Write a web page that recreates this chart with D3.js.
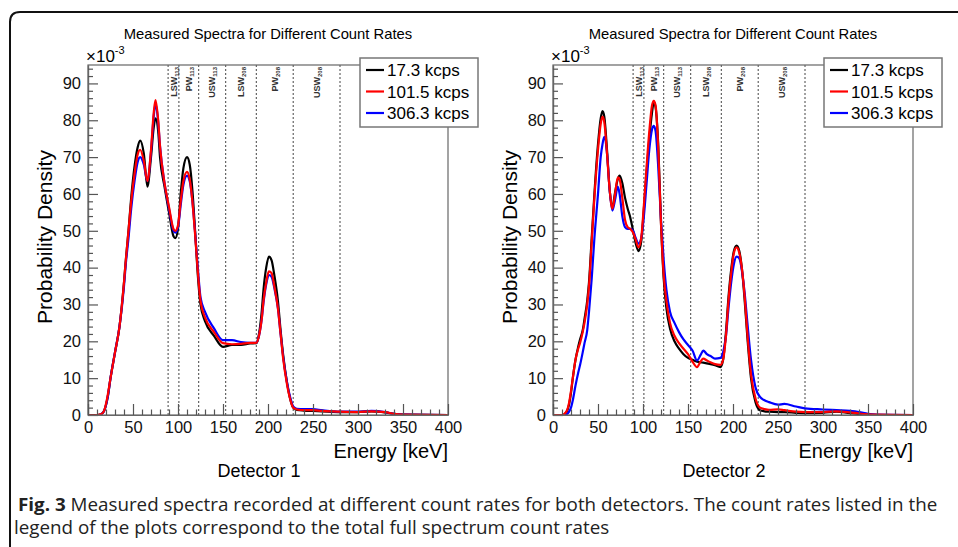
<!DOCTYPE html>
<html>
<head>
<meta charset="utf-8">
<script src="https://cdn.jsdelivr.net/npm/d3@7"></script>
<style>
  body { margin: 0; background: #fff; }
  svg { display: block; }
</style>
</head>
<body>
<svg id="chart" width="958" height="547"></svg>
<script>
// energies (keV) sampled for each detector
const energy1 = [0, 5, 10, 15, 18, 22, 25, 30, 35, 40, 42, 45, 48, 52, 55, 58, 62, 66, 70, 73,
    75, 78, 80, 85, 90, 95, 97, 100, 103, 106, 110, 113, 116, 119, 122, 125, 130, 140, 150, 160,
    170, 180, 187, 190, 193, 195, 198, 201, 204, 207, 211, 214, 217, 221, 225, 228, 232, 240, 250, 260,
    280, 300, 315, 330, 340, 350, 400];

// detector 1, probability density x1e-3
const det1Low = [0, 0, 0, 0.3, 1.2, 5, 10, 17, 24, 36, 42, 50, 59, 68, 72.5, 74.5, 71, 62, 70, 78,
    80.5, 77, 70, 62, 55, 48.5, 48, 50.5, 60, 67, 70, 68, 61, 50, 38, 30, 25.5, 21.5, 18.5, 19,
    19, 19.4, 19.5, 22, 28, 34, 40, 43, 42, 38, 31, 23, 16, 9, 4, 2, 1.4, 1.2, 1.1, 1.0,
    0.8, 0.8, 1.0, 0.7, 0.3, 0.1, 0];
const det1Mid = [0, -0.1, 0, 0.3, 1.2, 5.5, 10, 17, 24, 36, 42, 50, 58, 66, 70.5, 72, 69, 63.5, 72, 82,
    85.5, 80, 73, 63, 56.5, 50.5, 50, 51.5, 58, 63.5, 66, 64, 58, 49, 39, 31, 26.5, 22.5, 19.5, 19.2,
    19.3, 19.6, 19.6, 21.5, 26, 31, 36, 39, 38.5, 35, 29, 22, 15, 8.5, 4, 2, 1.5, 1.3, 1.3, 1.1,
    0.9, 0.8, 1.0, 0.8, 0.3, 0.1, 0];
const det1High = [-0.1, -0.3, -0.2, 0.3, 1.2, 5, 10, 17, 24, 35, 41, 48, 56, 64, 68.5, 70, 68, 63.5, 71.5, 81,
    84.5, 79.5, 73, 63, 56, 50, 49.5, 51, 57, 62.5, 65, 63.5, 58, 49.5, 40, 32, 28, 23.5, 20.3, 20.3,
    19.8, 19.6, 19.6, 21.5, 26, 30.5, 35.5, 38, 37.5, 34.5, 29, 22, 15.5, 9, 4.5, 2.3, 1.7, 1.6, 1.6, 1.3,
    0.9, 0.9, 1.1, 0.8, 0.3, 0.1, 0];

const energy2 = [0, 5, 10, 15, 18, 20, 22, 25, 28, 30, 33, 35, 38, 40, 43, 46, 50, 53, 55, 57,
    60, 63, 66, 69, 72, 74, 77, 80, 83, 86, 89, 92, 95, 98, 101, 104, 107, 110, 112, 114,
    117, 120, 123, 126, 130, 135, 140, 145, 150, 155, 160, 164, 167, 171, 175, 180, 186, 189, 192, 195,
    198, 201, 204, 207, 210, 213, 216, 220, 225, 230, 235, 240, 250, 257, 270, 280, 300, 315, 330, 340,
    350, 360, 400];

// detector 2
const det2Low = [0, 0, -0.2, 0.8, 3, 6, 10, 15, 18.5, 20.5, 23, 26, 31, 36, 48, 60, 73.5, 80.5, 82.5, 81,
    72, 61, 56.5, 60.5, 64, 65, 63, 59, 56, 53.5, 50, 46.5, 44.5, 47, 56, 66, 75, 82, 85, 83.5,
    73, 52, 37, 29, 23.5, 20, 18, 16.5, 15.5, 15, 14.5, 14.3, 14.2, 14, 13.8, 13.5, 13, 15, 22, 32,
    39.5, 44.5, 46, 44.5, 39.5, 31, 21, 10, 3.5, 1.3, 1, 0.9, 0.8, 0.8, 0.6, 0.5, 0.6, 0.9, 0.5, 0.3,
    0.1, 0, 0];
const det2Mid = [0, 0, 0, 1, 3.5, 6.5, 10, 15, 18, 19.5, 22.5, 25, 30, 35, 47, 59, 72, 79, 81, 79.5,
    71, 61, 56, 60, 64.5, 64, 59, 53, 51, 50.5, 49.5, 47.5, 45.5, 48, 57, 67.5, 77, 84, 85.3, 84,
    72, 52, 38, 31, 25, 21.5, 19.5, 18, 16.5, 14.5, 13, 14.5, 15.3, 14.8, 14.3, 13.8, 13.6, 15, 21, 31,
    38.5, 44, 45.5, 44, 39.5, 32, 22, 11, 4.5, 2, 1.6, 1.4, 1.5, 1.3, 0.9, 0.8, 0.8, 1, 0.7, 0.4,
    0.2, 0.1, 0];
const det2High = [0, 0, 0, 0.2, 1, 2, 4, 8, 11.5, 13.5, 17, 19.5, 23, 28, 37, 48, 60, 70, 73.5, 75.5,
    71, 61, 55.5, 58.5, 62, 60, 54, 51, 50.5, 50.5, 50, 48, 46.5, 48, 54, 63, 72, 77.5, 78.5, 77,
    67, 53, 42, 34, 28, 25, 22.5, 20.5, 19, 17.5, 14.8, 16.3, 17.5, 16.5, 16, 15.3, 15.5, 17, 21, 29,
    36, 41, 43, 42.5, 39, 33, 25, 15, 7.5, 4.9, 4, 3.5, 2.8, 3, 2.3, 1.8, 1.5, 1.3, 1.1, 0.8,
    0.3, 0.1, 0];

const legendLabels = ["17.3 kcps", "101.5 kcps", "306.3 kcps"];
const seriesColors = ["#000000", "#ff0000", "#0000ff"];
const windowEdges = [89, 101, 123, 153, 187, 228, 280];
const windowNames = [["LSW", "113"], ["PW", "113"], ["USW", "113"], ["LSW", "208"], ["PW", "208"], ["USW", "208"]];
const xTicks = [0, 50, 100, 150, 200, 250, 300, 350, 400];
const yTicks = [0, 10, 20, 30, 40, 50, 60, 70, 80, 90];

const FONT = "'Liberation Sans', Arial, sans-serif";
const svg = d3.select("#chart");

// outer figure border (top + left, rounded corner)
svg.append("path")
    .attr("d", "M10,547 L10,22 Q10,12 20,12 L958,12")
    .attr("fill", "none")
    .attr("stroke", "#111")
    .attr("stroke-width", 2);

const panels = [
    { left: 88, energy: energy1, values: [det1Low, det1Mid, det1High], label: "Detector 1", legendX: 360 },
    { left: 553, energy: energy2, values: [det2Low, det2Mid, det2High], label: "Detector 2", legendX: 824 }
];

const plotTop = 65, plotBottom = 415, plotW = 360;

panels.forEach((p, i) => {
    const x = d3.scaleLinear().domain([0, 400]).range([p.left, p.left + plotW]);
    const y = d3.scaleLinear().domain([0, 95]).range([plotBottom, plotTop]);
    const g = svg.append("g");

    g.append("clipPath").attr("id", "clip" + i)
        .append("rect")
        .attr("x", x(0)).attr("y", plotTop)
        .attr("width", plotW).attr("height", plotBottom - plotTop);

    // window boundaries
    g.append("g").selectAll("line")
        .data(windowEdges)
        .enter().append("line")
        .attr("x1", d => x(d)).attr("x2", d => x(d))
        .attr("y1", plotTop).attr("y2", plotBottom)
        .attr("stroke", "#444")
        .attr("stroke-width", 1)
        .attr("stroke-dasharray", "2,2");

    // window labels
    const wl = g.append("g").selectAll("text")
        .data(windowNames)
        .enter().append("text")
        .attr("transform", (d, k) => `translate(${x((windowEdges[k] + windowEdges[k + 1]) / 2) + 3},67) rotate(-90)`)
        .attr("text-anchor", "end")
        .attr("font-size", 9)
        .attr("font-weight", "bold")
        .attr("fill", "#333");
    wl.append("tspan").text(d => d[0]);
    wl.append("tspan").attr("font-size", 6).attr("dy", 2).text(d => d[1]);

    // spectra
    const line = d3.line()
        .x((d, k) => x(p.energy[k]))
        .y(d => y(d))
        .curve(d3.curveMonotoneX);
    const order = [0, 2, 1];
    g.append("g").attr("clip-path", `url(#clip${i})`)
        .selectAll("path")
        .data(order)
        .enter().append("path")
        .attr("d", s => line(p.values[s]))
        .attr("fill", "none")
        .attr("stroke", s => seriesColors[s])
        .attr("stroke-width", 2.2)
        .attr("stroke-linejoin", "round");

    // frame
    g.append("rect")
        .attr("x", x(0)).attr("y", plotTop)
        .attr("width", plotW).attr("height", plotBottom - plotTop)
        .attr("fill", "none")
        .attr("stroke", "#666")
        .attr("stroke-width", 1.2);

    // y axis, ticks pointing inside
    const yAxis = g.append("g")
        .attr("transform", `translate(${x(0)},0)`)
        .call(d3.axisLeft(y).tickValues(yTicks).tickSizeInner(-10).tickSizeOuter(0).tickPadding(7));
    g.append("g")
        .attr("transform", `translate(${x(0)},0)`)
        .call(d3.axisLeft(y).tickValues(d3.range(0, 95, 2).filter(v => v % 10 !== 0))
            .tickSizeInner(-5).tickSizeOuter(0).tickFormat(""));

    const xAxis = g.append("g")
        .attr("transform", `translate(0,${plotBottom})`)
        .call(d3.axisBottom(x).tickValues(xTicks).tickSizeInner(-11).tickSizeOuter(0).tickPadding(6));
    g.append("g")
        .attr("transform", `translate(0,${plotBottom})`)
        .call(d3.axisBottom(x).tickValues(d3.range(0, 401, 10).filter(v => v % 50 !== 0))
            .tickSizeInner(-5.5).tickSizeOuter(0).tickFormat(""));

    g.selectAll(".domain").attr("stroke", "#666").attr("stroke-width", 1.2);
    g.selectAll(".tick line").attr("stroke", "#555").attr("stroke-width", 1.2);
    yAxis.selectAll("text").attr("font-size", 16.5).attr("fill", "#111");
    xAxis.selectAll("text").attr("font-size", 16.5).attr("fill", "#111");

    // x10^-3
    const ex = g.append("text").attr("x", x(0) - 2).attr("y", 62).attr("font-size", 17);
    ex.append("tspan").text("\u00d710");
    ex.append("tspan").attr("font-size", 11).attr("dy", -8).text("-3");

    // titles
    g.append("text")
        .attr("x", x(200)).attr("y", 39)
        .attr("text-anchor", "middle")
        .attr("font-size", 14.8)
        .text("Measured Spectra for Different Count Rates");

    g.append("text")
        .attr("transform", `translate(${x(0) - 36},${(plotTop + plotBottom) / 2 - 3}) rotate(-90)`)
        .attr("text-anchor", "middle")
        .attr("font-size", 21)
        .text("Probability Density");

    g.append("text")
        .attr("x", x(400)).attr("y", 458)
        .attr("text-anchor", "end")
        .attr("font-size", 20)
        .text("Energy [keV]");

    g.append("text")
        .attr("x", x(190)).attr("y", 477)
        .attr("text-anchor", "middle")
        .attr("font-size", 18)
        .text(p.label);

    // legend
    const lg = g.append("g").attr("transform", `translate(${p.legendX},58)`);
    lg.append("rect")
        .attr("width", 118).attr("height", 69)
        .attr("fill", "#fff")
        .attr("stroke", "#777")
        .attr("stroke-width", 1.5);
    legendLabels.forEach((lab, k) => {
        lg.append("line")
            .attr("x1", 6).attr("x2", 24)
            .attr("y1", 12 + k * 21.5).attr("y2", 12 + k * 21.5)
            .attr("stroke", seriesColors[k]).attr("stroke-width", 2.2);
        lg.append("text")
            .attr("x", 27).attr("y", 18 + k * 21.5)
            .attr("font-size", 17)
            .text(lab);
    });
});

// every chart text in Liberation Sans (axis groups default to sans-serif)
svg.selectAll("text").style("font-family", FONT);

// caption
const captionLines = [
    [["Fig. 3", "bold"], [" Measured spectra recorded at different count rates for both detectors. The count rates listed in the", "normal"]],
    [["legend of the plots correspond to the total full spectrum count rates", "normal"]]
];
const caps = captionLines.map(parts => {
    const t = svg.append("text")
        .attr("x", 0).attr("y", 0)
        .attr("font-size", 18.5)
        .style("font-family", "'Open Sans', sans-serif")
        .attr("fill", "#222");
    parts.forEach(pt => t.append("tspan").attr("font-weight", pt[1]).text(pt[0]));
    return t;
});
const sx = 920 / caps[0].node().getComputedTextLength();
caps.forEach((t, k) => t.attr("transform", `translate(${k === 0 ? 18 : 14},${511 + k * 23}) scale(${sx},1)`));
</script>
</body>
</html>
